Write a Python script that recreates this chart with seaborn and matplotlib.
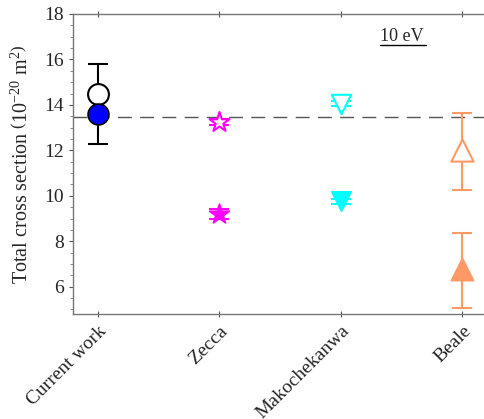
import numpy as np
import pandas as pd
import matplotlib
matplotlib.use("Agg")
import matplotlib.pyplot as plt
import seaborn as sns

# data
categories = ["Current work", "Zecca", "Makochekanwa", "Beale"]

open_vals = [14.5, 13.25, 14.05, 12.0]
open_err_lo = [0.0, 0.15, 0.12, 1.75]
open_err_hi = [0.0, 0.15, 0.12, 1.65]

filled_vals = [13.6, 9.2, 9.75, 6.8]
filled_err_lo = [1.3, 0.2, 0.1, 1.75]
filled_err_hi = [2.2, 0.2, 0.1, 1.55]

colors = ["black", "#FF00FF", "#00FFFF", "#FF9966"]
fill_colors = ["#0000FF", "#FF00FF", "#00FFFF", "#FF9966"]
markers = ["o", "*", "v", "^"]
msizes = [15, 15, 14, 16]

ref_line = 13.45

sns.set_style("ticks")
plt.rcParams['font.family'] = ['Liberation Serif', 'DejaVu Serif']
plt.rcParams['mathtext.fontset'] = 'custom'
plt.rcParams['mathtext.rm'] = 'Liberation Serif'
plt.rcParams['mathtext.it'] = 'Liberation Serif:italic'

fig = plt.figure(figsize=(4.84, 4.19), dpi=100)
ax = fig.add_axes([0.151, 0.2506, 0.849, 0.716])

x = np.arange(len(categories))

ax.axhline(ref_line, color="#555555", lw=1.0, dashes=(10, 6), zorder=1)

for i in range(len(categories)):
    # open symbols
    ax.errorbar(x[i], open_vals[i], yerr=[[open_err_lo[i]], [open_err_hi[i]]],
                fmt="none", ecolor=colors[i], elinewidth=1.5, capsize=7, capthick=1.5, zorder=2)
    # filled symbols
    ax.errorbar(x[i], filled_vals[i], yerr=[[filled_err_lo[i]], [filled_err_hi[i]]],
                fmt="none", ecolor=colors[i], elinewidth=1.5, capsize=7, capthick=1.5, zorder=2)

df_open = pd.DataFrame({"x": x, "y": open_vals})
df_fill = pd.DataFrame({"x": x, "y": filled_vals})
for i in range(len(categories)):
    sns.scatterplot(x=df_open.x.iloc[[i]], y=df_open.y.iloc[[i]], ax=ax, marker=markers[i],
                    s=msizes[i] ** 2, facecolor="white", edgecolor=colors[i],
                    linewidth=1.5, zorder=3, legend=False)
    sns.scatterplot(x=df_fill.x.iloc[[i]], y=df_fill.y.iloc[[i]], ax=ax, marker=markers[i],
                    s=msizes[i] ** 2, color=fill_colors[i], edgecolor="black" if i == 0 else fill_colors[i],
                    linewidth=1.2, zorder=3, legend=False)

ax.set_xlim(-0.205, 3.18)
ax.set_ylim(4.8, 18)
ax.set_yticks([6, 8, 10, 12, 14, 16, 18])
ax.set_yticks(np.arange(5, 18.01, 0.5), minor=True)
ax.set_xticks(x)
ax.set_xticklabels(categories, rotation=45, ha="right", rotation_mode="anchor")
ax.tick_params(axis="both", labelsize=14, length=3, width=0.8, color="#555555")
ax.tick_params(axis="y", which="minor", length=2, width=0.6, color="#777777")
ax.tick_params(axis="x", top=True, direction="inout", length=5)
ax.set_xlabel("")
ax.set_ylabel(r"Total cross section $\left(\mathrm{10^{-20}\ m^{2}}\right)$", fontsize=14.5, labelpad=8)

for s in ["left", "bottom", "top"]:
    ax.spines[s].set_color("#777777")
    ax.spines[s].set_linewidth(1.0)
ax.spines["right"].set_visible(False)

ax.text(0.80, 0.925, "10 eV", transform=ax.transAxes, fontsize=13, ha="center", va="center")
ax.plot([0.747, 0.859], [0.897, 0.897], transform=ax.transAxes, color="black", lw=1.0)

fig.savefig("out.png", dpi=100)
